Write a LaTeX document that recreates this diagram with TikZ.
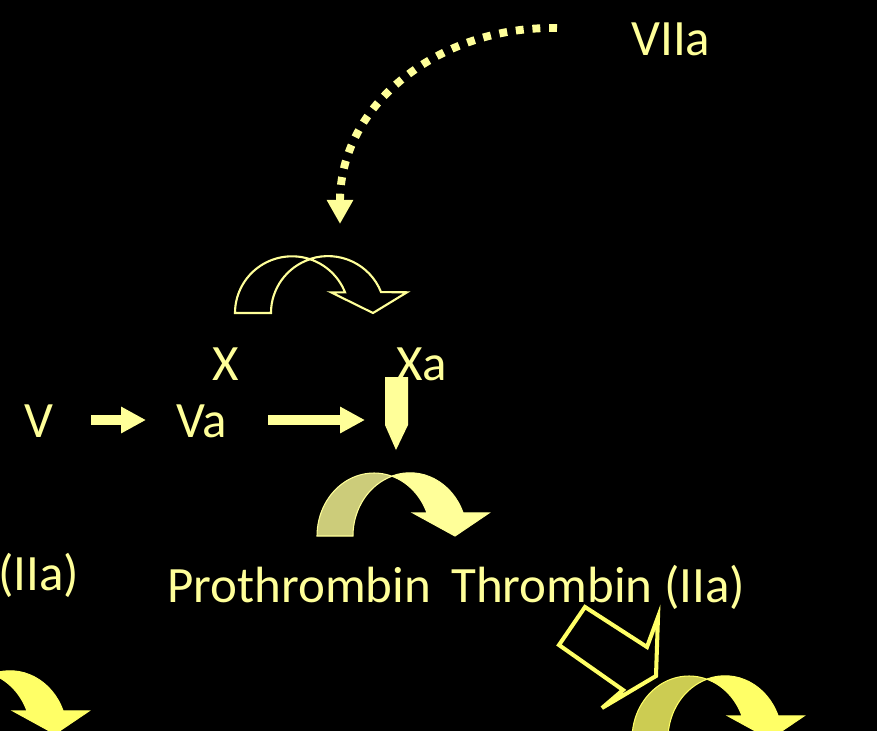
\documentclass[tikz,border=0pt]{standalone}
\usepackage{fontspec}
\setmainfont{Carlito}
\usetikzlibrary{arrows.meta}
\definecolor{Pale}{HTML}{FFFF99}
\definecolor{Bright}{HTML}{FFFF66}
\definecolor{PaleBack}{HTML}{CCCC7A}
\definecolor{BrightBack}{HTML}{CCCC52}

\begin{document}
\begin{tikzpicture}[x=0.02cm,y=-0.02cm,
    lbl/.style={text=Pale,anchor=base west,inner sep=0pt,font=\fontsize{29}{35}\selectfont},
    blk/.style={draw=Pale,line width=5.7pt,-{Triangle[length=14.2pt,width=14.2pt]}},
    dots/.style={draw=Pale,line width=4.5pt,dash pattern=on 4.5pt off 5pt,-{Triangle[length=13.7pt,width=14.2pt]}}]
        \fill[black] (0,0) rectangle (877,731);
        \useasboundingbox (0,0) rectangle (877,731);
        \clip (0,0) rectangle (877,731);
        % labels
        \node[lbl] (viia) at (631,55) {VIIa};
        \node[lbl] (x) at (212,380) {X};
        \node[lbl] (xa) at (396,380) {Xa};
        \node[lbl] (v) at (24,437) {V};
        \node[lbl] (va) at (176,437) {Va};
        \node[lbl] (iia) at (-2,590) {(IIa)};
        \node[lbl] (pro) at (167,602) {Prothrombin};
        \node[lbl] (thr) at (451,602) {Thrombin (IIa)};
        % curved arrows: back face, then front face
        \foreach \px/\py/\sy/\bk/\fr/\ln/\lw in {235/313/.9/black/black/Pale/1.2,317/536/1/PaleBack/Pale/Pale/.6,632/739/1/BrightBack/Bright/Bright/.6,-83/734/1/BrightBack/Bright/Bright/.6}{
          \begin{scope}[shift={(\px,\py)},yscale=\sy]
            \filldraw[fill=\bk,draw=\ln,line width=\lw pt] (0,0) arc[start angle=180,end angle=288.4,x radius=57,y radius=63] arc[start angle=251.6,end angle=180,x radius=57,y radius=63] -- cycle;
            \filldraw[fill=\fr,draw=\ln,line width=\lw pt] (75,-60) arc[start angle=251.6,end angle=338.6,x radius=57,y radius=63] -- (172,-23) -- (138,0) -- (96,-23) -- (110,-23) arc[start angle=338.6,end angle=288.4,x radius=57,y radius=63] -- cycle;
          \end{scope}
        }
        % hollow block arrow
        \draw[Bright,line width=2.3pt] (585,607) -- (647,647) -- (658,617) -- (656,676) -- (602,708) -- (623,690) -- (559,645) -- cycle;
        % connectors
        \coordinate (vOut) at (91,420);
        \coordinate (vaIn) at (146,420);
        \coordinate (vaOut) at (268,420);
        \coordinate (xaIn) at (365,420);
        \coordinate (viiaOut) at (557,28);
        \coordinate (xIn) at (340,224);
        \draw[blk] (vOut) -- (vaIn);
        \draw[blk] (vaOut) -- (xaIn);
        \draw[dots] (viiaOut) .. controls (438,26) and (340,105) .. (xIn);
        \fill[Pale] (385,377) -- (408,377) -- (408,425) -- (396,450) -- (385,425) -- cycle;
      \end{tikzpicture}
\end{document}
